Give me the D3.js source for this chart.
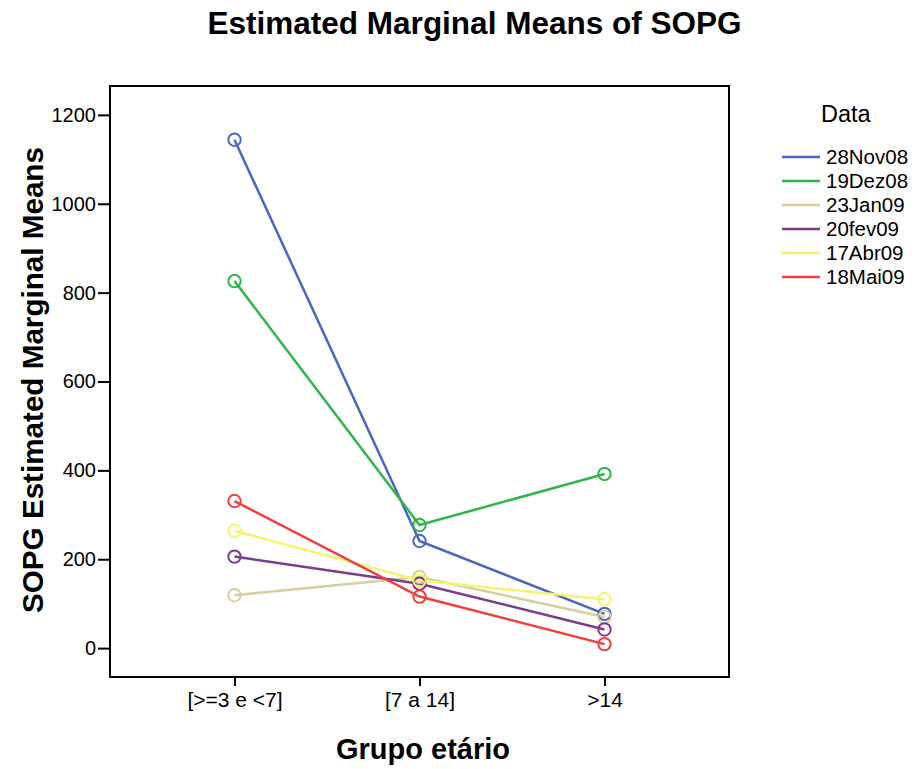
<!DOCTYPE html>
<html>
<head>
<meta charset="utf-8">
<script src="https://cdn.jsdelivr.net/npm/d3@7"></script>
<style>
  html, body { margin: 0; padding: 0; background: #fff; }
  svg { display: block; font-family: "Liberation Sans", Arial, sans-serif; }
</style>
</head>
<body>
<svg id="chart" width="916" height="769"></svg>
<script>
// ---- data ----
const categories = ["[>=3 e <7]", "[7 a 14]", ">14"];
const seriesNames = ["28Nov08", "19Dez08", "23Jan09", "20fev09", "17Abr09", "18Mai09"];
const s28Nov08 = [1144, 241, 77];
const s19Dez08 = [826, 277, 392];
const s23Jan09 = [119, 160, 70];
const s20fev09 = [206, 145, 42];
const s17Abr09 = [264, 152, 110];
const s18Mai09 = [331, 116, 9];
const yTicks = [0, 200, 400, 600, 800, 1000, 1200];
const colors = ["#4a66bf", "#2fb54a", "#d6d0a0", "#7e3a8c", "#f8f36e", "#f0403c"];
const titleText = "Estimated Marginal Means of SOPG";
const yLabelText = "SOPG Estimated Marginal Means";
const xLabelText = "Grupo etário";
const legendTitle = "Data";

const seriesValues = [s28Nov08, s19Dez08, s23Jan09, s20fev09, s17Abr09, s18Mai09];
const series = seriesNames.map((n, i) => ({
  name: n, color: colors[i],
  points: categories.map((c, j) => ({ cat: c, v: seriesValues[i][j] }))
}));

const svg = d3.select("#chart");
const L = 110, R = 729, T = 86, B = 677;

const x = d3.scalePoint().domain(categories).range([L, R]).padding(0.673);
const y = d3.scaleLinear().domain([-65, 1265]).range([B, T]);

function fit(sel, targetW) {
  sel.attr("font-size", 100);
  const w = sel.node().getComputedTextLength();
  sel.attr("font-size", 100 * targetW / w);
}

// title
const title = svg.append("text").attr("x", 474.5).attr("y", 34)
  .attr("text-anchor", "middle").attr("font-weight", "bold").text(titleText);
fit(title, 534);

// frame
svg.append("rect").attr("x", L).attr("y", T).attr("width", R - L).attr("height", B - T)
  .attr("fill", "none").attr("stroke", "#000").attr("stroke-width", 2);

// y axis
const yAxis = d3.axisLeft(y).tickValues(yTicks).tickSize(12).tickPadding(2).tickFormat(d3.format("d"));
const gy = svg.append("g").attr("transform", `translate(${L},0)`).call(yAxis);
gy.select(".domain").remove();
gy.selectAll(".tick line").attr("stroke", "#000").attr("stroke-width", 2);
gy.selectAll(".tick text").attr("font-size", 20).attr("font-family", "Liberation Sans, Arial, sans-serif").attr("fill", "#000");

// x axis
const xAxis = d3.axisBottom(x).tickSize(9).tickPadding(6);
const gx = svg.append("g").attr("transform", `translate(0,${B})`).call(xAxis);
gx.select(".domain").remove();
gx.selectAll(".tick line").attr("stroke", "#000").attr("stroke-width", 2);
gx.selectAll(".tick text").attr("font-size", 21).attr("font-family", "Liberation Sans, Arial, sans-serif").attr("fill", "#000");

// axis labels
const xl = svg.append("text").attr("x", 423).attr("y", 759)
  .attr("text-anchor", "middle").attr("font-weight", "bold").text(xLabelText);
fit(xl, 174);

const yl = svg.append("text").attr("transform", "translate(43,380) rotate(-90)")
  .attr("text-anchor", "middle").attr("font-weight", "bold").text(yLabelText);
fit(yl, 466);

// lines
const line = d3.line().x(d => x(d.cat)).y(d => y(d.v));
const g = svg.append("g");
series.forEach(s => {
  g.append("path").datum(s.points).attr("d", line)
    .attr("fill", "none").attr("stroke", s.color).attr("stroke-width", 2.5);
});
series.forEach(s => {
  g.selectAll(null).data(s.points).enter().append("circle")
    .attr("cx", d => x(d.cat)).attr("cy", d => y(d.v)).attr("r", 6.2)
    .attr("fill", "none").attr("stroke", s.color).attr("stroke-width", 2);
});

// legend
svg.append("text").attr("x", 821).attr("y", 122).attr("font-size", 23.5).text(legendTitle);
const lg = svg.append("g");
series.forEach((s, i) => {
  const yy = 157 + i * 24;
  lg.append("line").attr("x1", 782).attr("x2", 820).attr("y1", yy).attr("y2", yy)
    .attr("stroke", s.color).attr("stroke-width", 2.5);
  lg.append("text").attr("x", 826).attr("y", yy + 7).attr("font-size", 20.5).text(s.name);
});
</script>
</body>
</html>
